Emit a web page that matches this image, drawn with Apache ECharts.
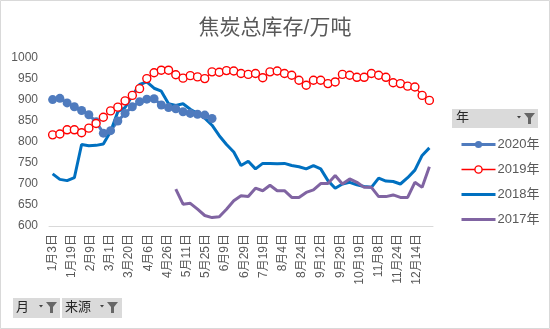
<!DOCTYPE html>
<html>
<head>
<meta charset="utf-8">
<script src="https://cdn.jsdelivr.net/npm/echarts@6/dist/echarts.min.js"></script>
<style>
html,body{margin:0;padding:0;background:#fff;}
#c{width:550px;height:329px;}
</style>
</head>
<body>
<div id="c"></div>
<script>
const tickLabels = ['1月3日','1月19日','2月9日','3月1日','3月20日','4月6日','4月26日','5月11日','5月25日','6月9日','6月29日','7月19日','8月4日','8月24日','9月12日','9月29日','10月19日','11月8日','11月24日','12月14日'];
const yTicks = [600, 650, 700, 750, 800, 850, 900, 950, 1000];
const seriesNames = ['2020年', '2019年', '2018年', '2017年'];
const s2020 = [901, 904, 893, 884, 875, 865, 848, 821, 827, 850, 868, 884, 896, 902, 903, 888, 882, 879, 872, 868, 866, 864, 856];
const s2019 = [817, 819, 829, 829, 822, 833, 844, 859, 874, 883, 898, 911, 927, 951, 965, 971, 971, 960, 952, 958, 955, 951, 967, 966, 970, 969, 963, 961, 963, 953, 967, 969, 963, 959, 947, 935, 947, 947, 939, 943, 961, 959, 954, 954, 963, 959, 954, 941, 939, 933, 931, 911, 899];
const s2018 = [724, 711, 708, 715, 794, 791, 792, 795, 825, 872, 882, 910, 937, 943, 928, 921, 891, 887, 891, 878, 868, 857, 840, 815, 794, 776, 744, 754, 736, 749, 749, 748, 749, 744, 741, 736, 744, 736, 708, 690, 700, 704, 698, 694, 692, 714, 707, 706, 700, 715, 733, 768, 786];
const s2017 = [null, null, null, null, null, null, null, null, null, null, null, null, null, null, null, null, null,
  688, 652, 654, 640, 625, 620, 622, 640, 660, 672, 670, 690, 684, 697, 684, 684, 668, 668, 680, 686, 701, 701, 720, 700, 712, 704, 692, 692, 670, 670, 674, 668, 668, 704, 692, 741];

// label axis: every third week carries a label
const LABEL_STEP = 3;
const labelCats = [];
tickLabels.forEach(function (t) { labelCats.push(t); for (let k = 1; k < LABEL_STEP; k++) labelCats.push(''); });
const weekCats = s2019.map(function (_, i) { return 'w' + i; });

const FONT = "'Liberation Sans', 'Noto Sans CJK SC', sans-serif";
const TXT = '#595959';

function funnel(x, y) {
  return [
    { type: 'polygon', shape: { points: [[x - 7, y + 3], [x - 3, y + 3], [x - 5, y + 5.5]] }, style: { fill: '#404040' } },
    { type: 'polygon', shape: { points: [[x, y], [x + 11, y], [x + 7, y + 5], [x + 7, y + 11], [x + 4, y + 11], [x + 4, y + 5]] }, style: { fill: '#666' } }
  ];
}

const chart = echarts.init(document.getElementById('c'), null, { renderer: 'canvas' });
chart.setOption({
  animation: false,
  backgroundColor: '#fff',
  title: {
    text: '焦炭总库存/万吨',
    left: 'center',
    top: 13,
    textStyle: { fontFamily: FONT, fontSize: 21, fontWeight: 'normal', color: TXT }
  },
  grid: { left: 49, right: 117, top: 58, bottom: 103 },
  legend: {
    orient: 'vertical',
    left: 455,
    top: 132,
    itemWidth: 34,
    itemHeight: 9,
    itemGap: 10,
    data: [
      { name: seriesNames[0], lineStyle: { width: 3 } },
      { name: seriesNames[1], lineStyle: { width: 1.3 }, itemStyle: { borderWidth: 1.4 } },
      { name: seriesNames[2], lineStyle: { width: 3 }, itemStyle: { opacity: 0 } },
      { name: seriesNames[3], lineStyle: { width: 3 }, itemStyle: { opacity: 0 } }
    ],
    textStyle: { fontFamily: FONT, fontSize: 13, color: TXT, padding: [0, 0, 0, -3], lineHeight: 15 }
  },
  xAxis: [
    {
      type: 'category',
      data: labelCats,
      boundaryGap: true,
      axisLine: { lineStyle: { color: '#D9D9D9', width: 1 } },
      axisTick: { show: false },
      axisLabel: { rotate: 90, interval: 0, fontFamily: FONT, fontSize: 12, color: TXT, margin: 8 }
    },
    {
      type: 'category',
      data: weekCats,
      boundaryGap: true,
      show: false
    }
  ],
  yAxis: {
    type: 'value',
    min: yTicks[0],
    max: yTicks[yTicks.length - 1],
    interval: 50,
    splitLine: { show: false },
    axisLine: { show: false },
    axisTick: { show: false },
    axisLabel: { fontFamily: FONT, fontSize: 12, color: TXT, margin: 11, formatter: function (v) { return String(v); } }
  },
  series: [
    {
      name: seriesNames[0], type: 'line', xAxisIndex: 1, data: s2020,
      symbol: 'circle', symbolSize: 9, showSymbol: true, showAllSymbol: true,
      itemStyle: { color: '#4F7BBE' },
      lineStyle: { color: '#4F7BBE', width: 3 }
    },
    {
      name: seriesNames[1], type: 'line', xAxisIndex: 1, data: s2019,
      symbol: 'circle', symbolSize: 8, showSymbol: true, showAllSymbol: true,
      itemStyle: { color: '#FFFFFF', borderColor: '#FF0000', borderWidth: 1.4 },
      lineStyle: { color: '#FF0000', width: 1.3 }
    },
    {
      name: seriesNames[2], type: 'line', xAxisIndex: 1, data: s2018,
      symbol: 'none', showSymbol: false,
      itemStyle: { color: '#0070C0' },
      lineStyle: { color: '#0070C0', width: 3 }
    },
    {
      name: seriesNames[3], type: 'line', xAxisIndex: 1, data: s2017,
      symbol: 'none', showSymbol: false,
      itemStyle: { color: '#8064A2' },
      lineStyle: { color: '#8064A2', width: 3 }
    }
  ],
  graphic: [
    { type: 'rect', shape: { x: 0.5, y: 0.5, width: 549, height: 328 }, style: { fill: 'none', stroke: '#D9D9D9', lineWidth: 1 }, silent: true },
    { type: 'rect', shape: { x: 452, y: 109, width: 86, height: 19 }, style: { fill: '#DADADA' } },
    { type: 'text', x: 456, y: 111, style: { text: '年', font: '13px ' + FONT, fill: '#262626' } },
    ...funnel(524, 113),
    { type: 'rect', shape: { x: 13, y: 298, width: 47, height: 20 }, style: { fill: '#DADADA' } },
    { type: 'text', x: 16, y: 301, style: { text: '月', font: '13px ' + FONT, fill: '#262626' } },
    ...funnel(46, 302),
    { type: 'rect', shape: { x: 62, y: 298, width: 60, height: 20 }, style: { fill: '#DADADA' } },
    { type: 'text', x: 65, y: 301, style: { text: '来源', font: '13px ' + FONT, fill: '#262626' } },
    ...funnel(107, 302)
  ]
});
</script>
</body>
</html>
